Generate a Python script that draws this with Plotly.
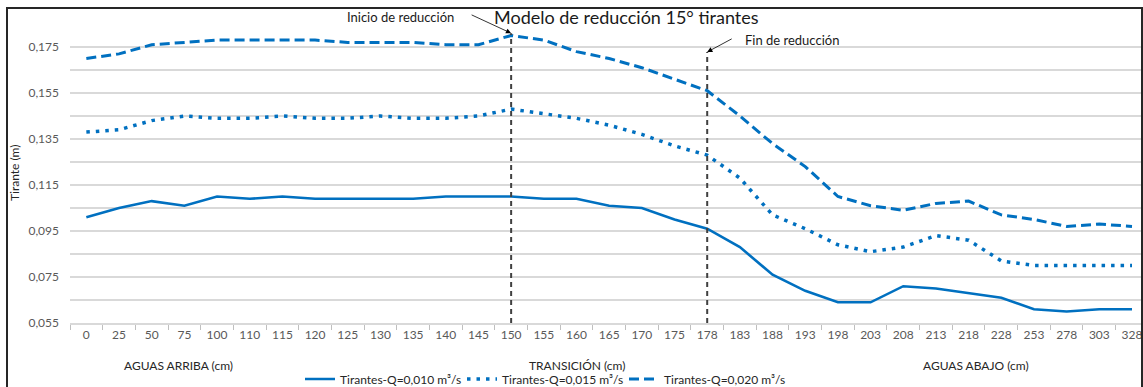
import plotly.graph_objects as go

# categorías del eje x (posición en cm)
CATS = ["0", "25", "50", "75", "100", "110", "115", "120", "125", "130", "135", "140",
        "145", "150", "155", "160", "165", "170", "175", "178", "183", "188", "193",
        "198", "203", "208", "213", "218", "228", "253", "278", "303", "328"]

# tirantes (m) por caudal
Q010 = [0.101, 0.105, 0.108, 0.106, 0.110, 0.109, 0.110, 0.109, 0.109, 0.109, 0.109,
        0.110, 0.110, 0.110, 0.109, 0.109, 0.106, 0.105, 0.100, 0.096, 0.088, 0.076,
        0.069, 0.064, 0.064, 0.071, 0.070, 0.068, 0.066, 0.061, 0.060, 0.061, 0.061]
Q015 = [0.138, 0.139, 0.143, 0.145, 0.144, 0.144, 0.145, 0.144, 0.144, 0.145, 0.144,
        0.144, 0.145, 0.148, 0.146, 0.144, 0.141, 0.137, 0.132, 0.128, 0.118, 0.102,
        0.096, 0.089, 0.086, 0.088, 0.093, 0.091, 0.082, 0.080, 0.080, 0.080, 0.080]
Q020 = [0.170, 0.172, 0.176, 0.177, 0.178, 0.178, 0.178, 0.178, 0.177, 0.177, 0.177,
        0.176, 0.176, 0.180, 0.178, 0.173, 0.170, 0.166, 0.161, 0.156, 0.145, 0.133,
        0.123, 0.110, 0.106, 0.104, 0.107, 0.108, 0.102, 0.100, 0.097, 0.098, 0.097]

SERIES = [
    ("Tirantes-Q=0,010 m³/s", Q010, "solid", 2.6),
    ("Tirantes-Q=0,015 m³/s", Q015, "3.5px,6px", 3.5),
    ("Tirantes-Q=0,020 m³/s", Q020, "10px,5px", 3),
]

INICIO = "150"
FIN = "178"
GROUPS = [("AGUAS ARRIBA (cm)", 178), ("TRANSICIÓN (cm)", 577), ("AGUAS ABAJO (cm)", 976)]

W, H = 1143, 387
L, R, T, B = 70, 2, 24, 64
PW, PH = W - L - R, H - T - B
FONT = "Lato, 'Open Sans', sans-serif"
BLUE = "#0070c0"
FS = 12


def px_x(p):
    return (p - L) / PW


def px_y(p):
    return (H - B - p) / PH


def label(text, cx, cy, size=FS, color="#262626", **kw):
    return dict(text=text, xref="paper", yref="paper", x=px_x(cx), y=px_y(cy),
                xanchor="center", yanchor="middle", showarrow=False,
                font=dict(size=size, color=color), **kw)


fig = go.Figure()
for name, vals, dash, w in SERIES:
    fig.add_trace(go.Scatter(x=CATS, y=vals, name=name, mode="lines",
                             line=dict(color=BLUE, width=w, dash=dash)))

# líneas verticales de inicio y fin de reducción
for cat, ytop in [(INICIO, 0.181), (FIN, 0.1728)]:
    i = CATS.index(cat)
    fig.add_shape(type="line", xref="x", yref="y", x0=i, x1=i, y0=0.055, y1=ytop,
                  line=dict(color="#404040", width=2, dash="5px,4px"), layer="above")

annotations = [
    label("Modelo de reducción 15° tirantes", 626, 17, size=18, color="#1a1a1a"),
    label("Inicio de reducción", 400, 17, size=13, color="#1a1a1a"),
    dict(text="", x=CATS.index(INICIO), y=0.181, xref="x", yref="y",
         ax=-41, ay=-19, showarrow=True, arrowhead=2, arrowsize=1.3, arrowwidth=0.8,
         arrowcolor="black"),
    label("Fin de reducción", 792, 40, size=13, color="#1a1a1a"),
    dict(text="", x=CATS.index(FIN), y=0.1728, xref="x", yref="y",
         ax=26, ay=-14, showarrow=True, arrowhead=2, arrowsize=1.3, arrowwidth=0.8,
         arrowcolor="black"),
    label("Tirante (m)", 14, 173, textangle=-90),
]
for txt, cx in GROUPS:
    annotations.append(label(txt, cx, 365))

xr = [-0.5, 32 + 9 / 32.69]
fig.update_layout(
    width=W, height=H,
    margin=dict(l=L, r=R, t=T, b=B, autoexpand=False),
    paper_bgcolor="white", plot_bgcolor="white",
    separators=",.",
    font=dict(family=FONT, size=FS, color="#595959"),
    showlegend=True,
    legend=dict(orientation="h", x=px_x(300), y=px_y(379), xanchor="left", yanchor="middle",
                font=dict(size=FS, color="#262626"), entrywidth=117, itemwidth=30,
                bgcolor="rgba(0,0,0,0)", tracegroupgap=0),
    annotations=annotations,
    xaxis=dict(type="category", categoryorder="array", categoryarray=CATS, range=xr,
               showgrid=False, tickson="boundaries", ticks="outside", ticklen=5,
               tickcolor="#bfbfbf", showline=True, linecolor="#d9d9d9", linewidth=1.5,
               tickfont=dict(size=FS, color="#595959"), zeroline=False, fixedrange=True),
    xaxis2=dict(overlaying="x", anchor="y", range=xr, tick0=-0.5, dtick=0.5,
                showgrid=True, gridcolor="#ededed", gridwidth=1, showticklabels=False,
                ticks="", zeroline=False, layer="below traces"),
    yaxis=dict(range=[0.055, 0.185], tick0=0.055, dtick=0.02, tickformat=".3f",
               showgrid=True, gridcolor="#d9d9d9", gridwidth=1.5, zeroline=False,
               ticks="", ticklabelstandoff=10, tickfont=dict(size=FS, color="#595959"),
               minor=dict(dtick=0.01, tick0=0.055, showgrid=True, gridcolor="#d9d9d9",
                          gridwidth=1.5)),
)

# marco del gráfico como borde CSS sobre la página
frame_js = """
document.body.style.margin='0';
document.body.style.overflow='hidden';
var f = document.createElement('div');
f.style.cssText = 'position:absolute;left:6px;top:7px;width:1133px;height:420px;' +
                  'border:2px solid #262626;pointer-events:none;box-sizing:content-box;';
document.body.appendChild(f);
"""

fig.write_html("out.html", config={"displayModeBar": False}, post_script=frame_js)
